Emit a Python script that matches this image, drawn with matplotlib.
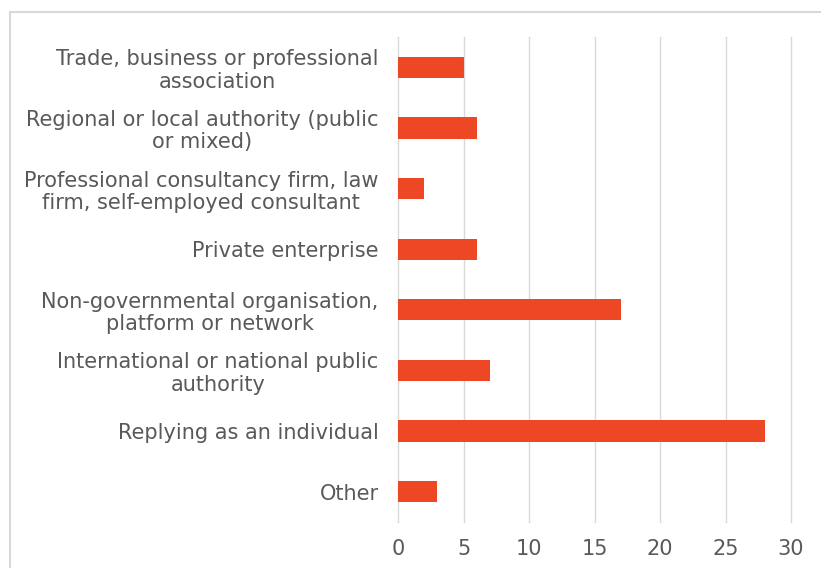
import matplotlib.pyplot as plt
from matplotlib.patches import Rectangle

# respondent categories, top to bottom
categories = [
    "Trade, business or professional\nassociation",
    "Regional or local authority (public\nor mixed)",
    "Professional consultancy firm, law\nfirm, self-employed consultant",
    "Private enterprise",
    "Non-governmental organisation,\nplatform or network",
    "International or national public\nauthority",
    "Replying as an individual",
    "Other",
]
responses = [5, 6, 2, 6, 17, 7, 28, 3]
x_ticks = [0, 5, 10, 15, 20, 25, 30]

text_grey = "#595959"
line_grey = "#d9d9d9"

fig = plt.figure(figsize=(8.21, 5.68), dpi=100)
ax = fig.add_axes([0.4848, 0.081, 0.4787, 0.8539])

pos = list(range(len(categories)))
ax.barh(pos, responses, height=0.35, color="#ee4725", zorder=3)

ax.set_ylim(len(categories) - 0.5, -0.5)
ax.set_xlim(0, 30)
ax.set_xticks(x_ticks)
ax.set_yticks(pos)
ax.set_yticklabels(categories, multialignment="center", linespacing=1.15)

ax.grid(axis="x", color=line_grey, linewidth=1, zorder=0)
for gl in ax.get_xgridlines():
    gl.set_clip_on(False)
for side in ax.spines.values():
    side.set_visible(False)
ax.tick_params(axis="both", length=0, labelsize=15, labelcolor=text_grey)
ax.tick_params(axis="y", pad=14)
ax.tick_params(axis="x", pad=12)

# light frame around the chart area
fig.patches.append(Rectangle((10 / 821, -0.05), 1.1, 1 - 12 / 568 + 0.05,
                             transform=fig.transFigure, fill=False,
                             edgecolor=line_grey, linewidth=1.5))

fig.savefig("out.png", dpi=100)
